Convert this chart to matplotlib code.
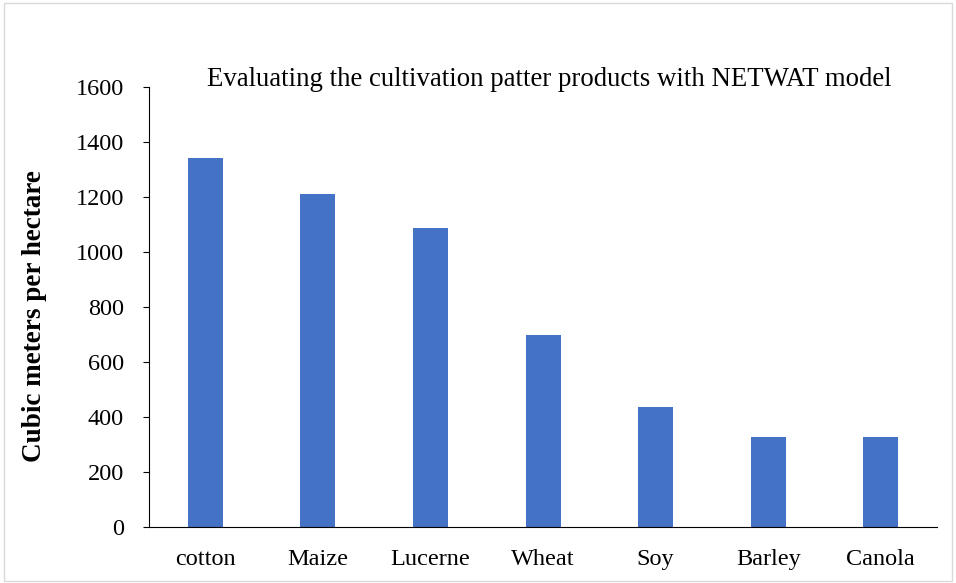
import matplotlib.pyplot as plt
import numpy as np
from matplotlib.patches import Rectangle

crops = ['cotton', 'Maize', 'Lucerne', 'Wheat', 'Soy', 'Barley', 'Canola']
water = [1340, 1211, 1087, 699, 437, 329, 329]

plt.rcParams['font.family'] = 'Liberation Serif'

fig = plt.figure(figsize=(9.56, 5.83), dpi=100)
ax = fig.add_axes([0.1559, 0.0961, 0.8243, 0.7547])

x = np.arange(len(crops))
ax.bar(x, water, width=0.31, color='#4472C4')

ax.set_xlim(-0.5, len(crops) - 0.5)
ax.set_ylim(0, 1600)
ax.set_yticks(np.arange(0, 1601, 200))
ax.set_xticks(x)
ax.set_xticklabels(crops)
ax.tick_params(axis='x', length=0, labelsize=17.5, pad=16)
ax.tick_params(axis='y', length=4, labelsize=17.5, pad=14)

ax.spines['top'].set_visible(False)
ax.spines['right'].set_visible(False)

ax.set_ylabel('Cubic meters per hectare', fontsize=19.5, fontweight='bold', va='center')
ax.yaxis.set_label_coords(-0.145, 0.48)
fig.text(0.575, 0.842, 'Evaluating the cultivation patter products with NETWAT model',
         ha='center', va='bottom', fontsize=19.3)

# light frame around the chart
fig.patches.append(Rectangle((0.004, 0.003), 0.992, 0.991, transform=fig.transFigure,
                             fill=False, edgecolor='#D9D9D9', linewidth=1))

plt.savefig('out.png', dpi=100)
